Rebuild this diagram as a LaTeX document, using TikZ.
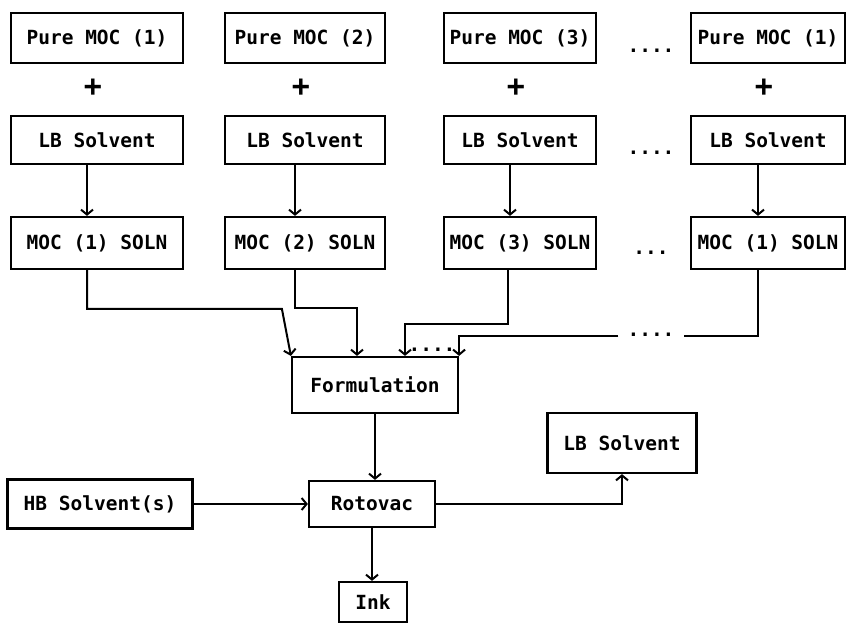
\documentclass[tikz,border=0pt]{standalone}
\usepackage{fontspec}
\setmonofont{DejaVu Sans Mono}
\usetikzlibrary{arrows.meta,calc}
\newcommand{\flowfont}{\ttfamily\bfseries\fontsize{19.5}{22}\selectfont}
\tikzset{
  procbox/.style={draw, line width=2.2pt, inner sep=2pt, font=\flowfont},
  flow/.style={line width=2pt, -{Straight Barb[length=5pt,width=12pt,line width=2pt]}},
  link/.style={line width=2pt},
  plus/.style={font=\ttfamily\bfseries\fontsize{30}{30}\selectfont, inner sep=0pt},
  gapdots/.style={font=\flowfont, anchor=base, inner xsep=9pt, inner ysep=0pt}
}

\begin{document}
\begin{tikzpicture}[x=1pt, y=-1pt]
  \useasboundingbox (0,0) rectangle (846,626);
  % one column per MOC: index, centre, label number, width
  \foreach \i/\x/\n/\w in {1/97/1/172, 2/305/2/160, 3/520/3/152, 4/768/1/154} {
    \node[procbox, minimum width=\w pt, minimum height=50pt] (pure\i) at (\x,38) {Pure MOC (\n)};
    \node[plus] (plus\i) at (\x-4,88) {+};
    \node[procbox, minimum width=\w pt, minimum height=48pt] (lb\i) at (\x,140) {LB Solvent};
    \node[procbox, minimum width=\w pt, minimum height=52pt] (soln\i) at (\x,243) {MOC (\n) SOLN};
    \draw[flow] ([xshift=-10pt]lb\i.south) -- ([xshift=-10pt]soln\i.north);
  }
  \node[gapdots] (dotsa) at (651,53) {....};
  \node[gapdots] (dotsb) at (651,154) {....};
  \node[gapdots] (dotsc) at (651,254) {...};

  \node[procbox, minimum width=166pt, minimum height=56pt] (form) at (375,385) {Formulation};
  \node[procbox, minimum width=126pt, minimum height=46pt] (roto) at (372,504) {Rotovac};
  \node[procbox, minimum width=185pt, minimum height=49pt] (hb) at (100,504) {HB Solvent(s)};
  \node[procbox, minimum width=149pt, minimum height=60pt] (lbout) at (622,443) {LB Solvent};
  \node[procbox, minimum width=68pt, minimum height=40pt] (ink) at (373,602) {Ink};
  \node[gapdots] (dotsf) at (651,336) {....};
  \node[gapdots] (dotsg) at (432,351) {....};

  \draw[flow] ([xshift=-10pt]soln1.south) |- ([xshift=-9pt,yshift=47pt]form.north west) -- (form.north west);
  \draw[flow] ([xshift=-10pt]soln2.south) |- ([xshift=-18pt,yshift=48pt]form.north) -- ([xshift=-18pt]form.north);
  \draw[flow] ([xshift=-12pt]soln3.south) |- ([xshift=30pt,yshift=32pt]form.north) -- ([xshift=30pt]form.north);
  \draw[link] ([xshift=-10pt]soln4.south) |- (dotsf.base east);
  \draw[flow] (dotsf.base west) -| (form.north east);

  \draw[flow] (form.south) -- (form.south |- roto.north);
  \draw[flow] (hb) -- (roto);
  \draw[flow] (roto.east) -| (lbout.south);
  \draw[flow] (roto.south) -- (roto.south |- ink.north);
\end{tikzpicture}
\end{document}
